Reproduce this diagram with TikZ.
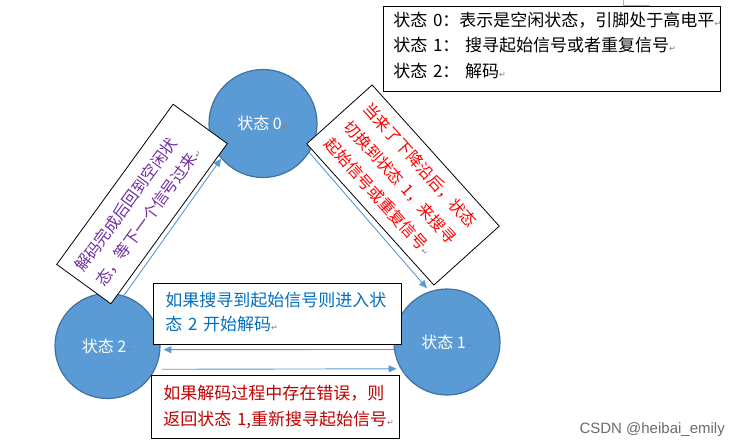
\documentclass[tikz,border=0pt]{standalone}
\usepackage{fontspec}
\setmainfont{Noto Sans CJK SC}
\newfontfamily\dvfont{DejaVu Sans}
\newfontfamily\wmfont{Liberation Sans}
\usetikzlibrary{arrows.meta}
\definecolor{cfill}{HTML}{5B9BD5}
\definecolor{cedge}{HTML}{41719C}
\definecolor{tblue}{HTML}{0070C0}
\definecolor{tdred}{HTML}{C00000}
\definecolor{tred}{HTML}{FF0000}
\definecolor{tpurple}{HTML}{7030A0}
\newcommand{\parmark}{{\dvfont\fontsize{8}{8}\selectfont\textcolor{gray}{↵}}}
\newcommand{\fs}[2]{\fontsize{#1}{#2}\selectfont}
\tikzset{
  state/.style={circle, fill=cfill, draw=cedge, line width=1.2pt, text=white,
    font=\fs{16}{16}, inner sep=0pt},
  notebox/.style={draw=black, line width=0.8pt, fill=white, align=left},
  flow/.style={draw=cfill, line width=0.9pt, -{Triangle[length=8pt,width=7pt]}},
}
\begin{document}
\begin{tikzpicture}[x=1pt, y=-1pt]
\useasboundingbox (0,0) rectangle (740,445);
\fill[white] (0,0) rectangle (740,445);

% states
\node[state, minimum size=108pt] (s0) at (263,123.5) {状态 0\parmark};
\node[state, minimum size=105pt] (s2) at (107.5,346) {状态 2\parmark};
\node[state, minimum size=106pt] (s1) at (447,342) {状态 1\parmark};

% transitions
\draw[flow] (s2.72) -- (s0.220);
\draw[flow, shorten >=4pt] (s0.-32) -- (s1.109);
\draw[flow, shorten >=3pt] (s1.188.7) -- (s2.-4.4);
\draw[flow, shorten <=7pt, shorten >=4pt] (s2.-26) -- (s1.210.6);

% legend
\draw[gray!60, line width=0.8pt] (623,0) -- (623,5) -- (650,5);
\node[notebox, anchor=north west, text width=317pt, inner xsep=10pt, inner ysep=5.5pt,
  font=\fs{17}{25.5}] (legend) at (383,6)
  {状态~0：表示是空闲状态，引脚处于高电平\parmark\\
   状态~1：~搜寻起始信号或者重复信号\parmark\\
   状态~2：~解码\parmark\rule[-9pt]{0pt}{0pt}};

% rotated notes
\node[notebox, rotate=-48, minimum width=190pt, minimum height=88pt, text width=166pt,
  inner xsep=12pt, inner ysep=0pt, text=tred, font=\fs{16}{26}] (n01) at (403,185)
  {当来了下降沿后，状态\\
   切换到状态~1，来搜寻\\
   起始信号或重复信号\parmark};
\node[notebox, rotate=54, minimum width=198pt, minimum height=67pt, text width=180pt,
  inner xsep=9pt, inner ysep=0pt, text=tpurple, font=\fs{16}{25}] (n20) at (142,204)
  {解码完成后回到空闲状\\
   态，等下一个信号过来\parmark};

% horizontal notes
\node[notebox, anchor=north west, text width=230pt, inner xsep=9pt, inner ysep=8.5pt,
  text=tblue, font=\fs{17}{24}] (n12) at (153,283)
  {\hspace*{3pt}如果搜寻到起始信号则进入状\\
   \hspace*{3pt}态~2~开始解码\parmark\rule[-6pt]{0pt}{0pt}};
\node[notebox, anchor=north west, text width=230pt, inner xsep=9pt, inner ysep=9.5pt,
  text=tdred, font=\fs{17}{26}] (n21) at (151,375)
  {\hspace*{3pt}如果解码过程中存在错误，则\\
   \hspace*{3pt}返回状态~1,重新搜寻起始信号\parmark};

% watermark
\node[anchor=base east, inner sep=0pt, text=gray!85!black, font=\wmfont\fs{15}{15}] (wm)
  at (725,433) {CSDN @heibai\_emily};
\end{tikzpicture}
\end{document}
